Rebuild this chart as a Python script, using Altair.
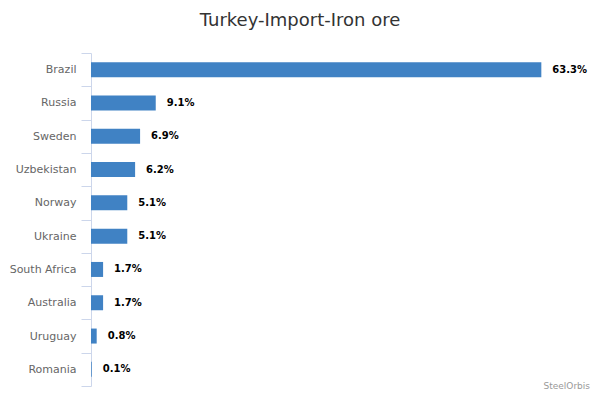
import altair as alt
import pandas as pd

countries = ["Brazil", "Russia", "Sweden", "Uzbekistan", "Norway", "Ukraine",
             "South Africa", "Australia", "Uruguay", "Romania"]
shares = [63.3, 9.1, 6.9, 6.2, 5.1, 5.1, 1.7, 1.7, 0.8, 0.1]

df = pd.DataFrame({"country": countries, "share": shares})
df["label"] = [f"{v:.1f}%" for v in shares]

FONT = "DejaVu Sans"

y = alt.Y("country:N", sort=countries,
          scale=alt.Scale(paddingInner=0, paddingOuter=0),
          axis=alt.Axis(title=None, tickBand="extent", tickSize=10, labelPadding=5,
                        domainColor="#ccd6eb", tickColor="#ccd6eb",
                        labelColor="#666666", labelFontSize=11, labelFont=FONT,
                        grid=False))
x = alt.X("share:Q", scale=alt.Scale(domain=[0, 70], nice=False), axis=None)

bars = alt.Chart(df).mark_bar(color="#4082c4", height=15).encode(x=x, y=y)
labels = alt.Chart(df).mark_text(align="left", dx=11, fontWeight="bold", fontSize=10,
                                 font=FONT, color="#000000").encode(x=x, y=y, text="label:N")
credit = alt.Chart(pd.DataFrame({"t": ["SteelOrbis"]})).mark_text(
    align="right", baseline="bottom", fontSize=9, font=FONT, color="#999999"
).encode(x=alt.value(499), y=alt.value(338), text="t:N")

chart = (bars + labels + credit).properties(
    width=498, height=333,
    padding={"left": 83, "top": 45, "right": 3, "bottom": 6},
    autosize=alt.AutoSizeParams(type="none"),
    title=alt.TitleParams("Turkey-Import-Iron ore", font=FONT, fontSize=18,
                          fontWeight="normal", color="#333333", anchor="middle",
                          dx=-40, offset=17),
).configure_view(stroke=None)

chart.save("out.html", embed_options={"renderer": "svg", "actions": False})
